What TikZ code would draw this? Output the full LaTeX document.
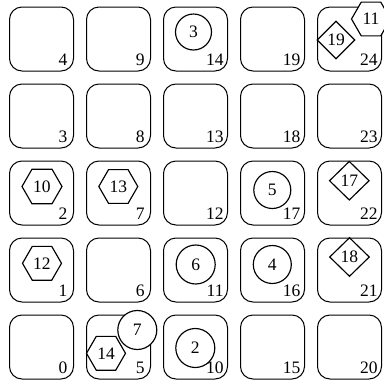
\documentclass[tikz,border=0pt]{standalone}
\usepackage{fontspec}
\setmainfont{Liberation Serif}
\usetikzlibrary{shapes.geometric}
\begin{document}
\begin{tikzpicture}[x=1pt,y=-1pt,
  cell/.style={draw, line width=1pt, rounded corners=12.5pt, minimum width=64pt, minimum height=64pt, inner sep=0pt},
  num/.style={font=\fontsize{17.5}{20}\selectfont, inner sep=0pt, anchor=base east},
  tok/.style={draw, fill=white, line width=1.15pt, inner sep=0pt, font=\fontsize{17.5}{20}\selectfont},
  circ/.style={tok, circle, minimum size=39pt},
  hexa/.style={tok, regular polygon, regular polygon sides=6, minimum size=39pt},
  diam/.style={tok, diamond, minimum width=40pt, minimum height=39pt}]
\useasboundingbox (0,0) rectangle (384,381);
\foreach \n in {0,...,24} {
  \pgfmathtruncatemacro{\col}{int(\n/5)}
  \pgfmathtruncatemacro{\row}{4-mod(\n,5)}
  \pgfmathsetmacro{\dx}{ifthenelse(\n<10,-6.3,-4.3)}
  \node[cell] (c\n) at (41.5+77*\col, 39+77*\row) {};
  \node[num] (l\n) at ([xshift=\dx pt,yshift=6pt]c\n.south east) {\n};
}
\node[circ, minimum size=36pt] (s3) at (193.5,32) {3};
\node[diam, minimum height=38pt, minimum width=38pt] (s19) at (336,40) {19};
\node[hexa] (s11) at (371,19) {11};
\node[hexa, minimum size=40pt] (s10) at (42,186.5) {10};
\node[hexa] (s13) at (118.3,186.5) {13};
\node[circ, minimum size=37pt] (s5) at (272.3,190) {5};
\node[diam] (s17) at (349.3,180.7) {17};
\node[hexa] (s12) at (42,263.3) {12};
\node[circ] (s6) at (195.7,264.5) {6};
\node[circ, minimum size=38pt] (s4) at (272.3,264.5) {4};
\node[diam] (s18) at (349.5,257) {18};
\node[hexa] (s14) at (106,353.3) {14};
\node[circ] (s7) at (137.3,330) {7};
\node[circ] (s2) at (195.3,348) {2};
\end{tikzpicture}
\end{document}
